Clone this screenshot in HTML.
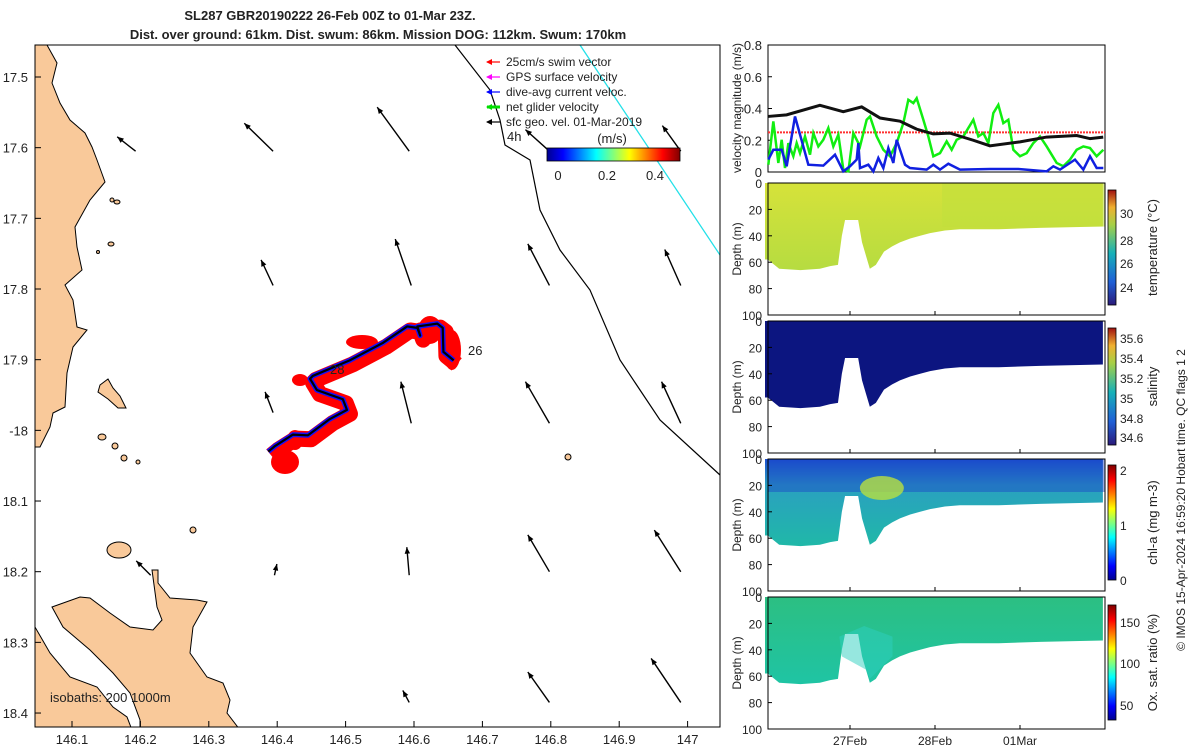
<!DOCTYPE html>
<html><head><meta charset="utf-8"><style>
html,body{margin:0;padding:0;background:#fff;}
svg{display:block;font-family:"Liberation Sans",sans-serif;}
text{font-size:13px;fill:#222;}
</style></head><body>
<svg id="c" width="1200" height="750" xmlns="http://www.w3.org/2000/svg">
<defs>
<linearGradient id="jet" x1="0" x2="1" y1="0" y2="0">
<stop offset="0" stop-color="#00008f"/><stop offset="0.12" stop-color="#0000ff"/><stop offset="0.37" stop-color="#00ffff"/><stop offset="0.62" stop-color="#ffff00"/><stop offset="0.87" stop-color="#ff0000"/><stop offset="1" stop-color="#800000"/></linearGradient>
<linearGradient id="vjet" x1="0" x2="0" y1="1" y2="0">
<stop offset="0" stop-color="#00008f"/><stop offset="0.12" stop-color="#0000ff"/><stop offset="0.37" stop-color="#00ffff"/><stop offset="0.62" stop-color="#ffff00"/><stop offset="0.87" stop-color="#ff0000"/><stop offset="1" stop-color="#800000"/></linearGradient>
<linearGradient id="vpar" x1="0" x2="0" y1="1" y2="0">
<stop offset="0" stop-color="#2a1a7a"/><stop offset="0.2" stop-color="#1f5fd6"/><stop offset="0.45" stop-color="#16b0b8"/><stop offset="0.7" stop-color="#a7d046"/><stop offset="0.85" stop-color="#f0b030"/><stop offset="1" stop-color="#a01010"/></linearGradient>
<linearGradient id="tempfill" x1="0" x2="0" y1="0" y2="1"><stop offset="0" stop-color="#d6e23a"/><stop offset="1" stop-color="#b6dc40"/></linearGradient>
<linearGradient id="chlfill" x1="0" x2="0" y1="0" y2="1"><stop offset="0" stop-color="#1b4fd0"/><stop offset="0.3" stop-color="#2aa0c0"/><stop offset="1" stop-color="#20b8a8"/></linearGradient>
<linearGradient id="oxfill" x1="0" x2="0" y1="0" y2="1"><stop offset="0" stop-color="#2cbf82"/><stop offset="1" stop-color="#1fc4a4"/></linearGradient>
</defs>
<g id="map"></g>
<g id="right"></g>
</svg>
<script>
// ---------- data ----------
var lonTicks=[146.1,146.2,146.3,146.4,146.5,146.6,146.7,146.8,146.9,147];
var latTicks=[17.5,17.6,17.7,17.8,17.9,18,18.1,18.2,18.3,18.4];
var vecLon=[146.193,146.394,146.593,146.798,146.99, 146.394,146.596,146.798,146.99, 146.394,146.596,146.798,146.99, 146.215,146.396,146.593,146.798,146.99, 146.593,146.798,146.99];
var vecLat=[17.605,17.605,17.605,17.605,17.605, 17.795,17.795,17.795,17.795, 17.975,17.99,17.99,17.99, 18.205,18.205,18.205,18.2,18.2, 18.385,18.385,18.385];
var vecU=[-0.23,-0.36,-0.40,-0.30,-0.23, -0.15,-0.20,-0.27,-0.20, -0.10,-0.13,-0.30,-0.24, -0.18,0.03,-0.03,-0.27,-0.33, -0.08,-0.27,-0.37];
var vecV=[0.18,0.35,0.55,0.27,0.32, 0.32,0.58,0.52,0.45, 0.26,0.52,0.52,0.52, 0.18,0.14,0.35,0.46,0.52, 0.15,0.38,0.55];
var trackLon=[146.387,146.397,146.423,146.445,146.477,146.502,146.496,146.458,146.448,146.452,146.506,146.555,146.59,146.605,146.609,146.605,146.634,146.642,146.643,146.658];
var trackLat=[18.03,18.022,18.006,18.007,17.984,17.971,17.956,17.943,17.927,17.923,17.901,17.876,17.853,17.855,17.866,17.853,17.849,17.855,17.889,17.901];
var tHours=[0.9,6.1,15.5,22.1,27.3,32.5,38.1,42.8,47.5,52.2,58.8,63.5,72,79.5,88,91.8,95.5];
var sfcGeo=[0.35,0.36,0.42,0.38,0.41,0.34,0.32,0.27,0.24,0.245,0.2,0.165,0.19,0.22,0.23,0.21,0.22];
var gZ=[25,40,55,65,75,85,100,110,120,135,150,160,175,190,205,220,235,250,265,280,300,320,330,350,370,390,410,430,445,460,470,490,505,520,540,560,575,590,610,625,640,655,670,685,700,715,730,745,760,780,800,820,840,860,875,890,910,930,950,970,990,1010,1030];
var netGlider=[0.046,0.319,0.057,0.203,0.025,0.182,0.099,0.182,0.119,0.224,0.109,0.245,0.161,0.203,0.277,0.161,0.235,0.015,0.004,0.245,0.161,0.329,0.350,0.224,0.140,0.099,0.182,0.308,0.455,0.434,0.465,0.329,0.224,0.099,0.119,0.193,0.140,0.203,0.224,0.277,0.329,0.224,0.245,0.182,0.371,0.423,0.308,0.329,0.140,0.099,0.119,0.182,0.224,0.161,0.109,0.057,0.036,0.078,0.140,0.161,0.151,0.099,0.140];
var bZ=[25,40,65,80,105,145,190,225,250,270,290,295,300,325,340,355,370,385,400,410,435,450,500,520,540,565,600,690,775,860,880,900,945,970,990,1010,1030];
var diveAvg=[0.078,0.140,0.140,0.036,0.350,0.046,0.040,0.109,0.004,0.036,0.078,0.182,0.025,0.046,0.004,0.088,0.025,0.151,0.057,0.203,0.046,0.025,0.015,0.046,0.015,0.052,0.015,0.019,0.019,0.004,0.036,0.015,0.078,0.015,0.099,0.025,0.025];
var swimRef=0.25;
var botHours=[0,0.8,4,10,15.5,18.4,20.6,21.7,22.6,24,26.3,27.4,28.5,29.6,31.3,33.6,35.9,38.1,41,43.8,46.6,50.8,55,66,77.6,95.4];
var botDepth=[58,58,65,66,65,63,62,40,28,28,28,45,55,65,62,52,48,45,42,40,38,36,35,35,34,33];
var depthTicks=[0,20,40,60,80,100];
var velTicks=[0,0.2,0.4,0.6,0.8];
var dayLabels=['27Feb','28Feb','01Mar'];
var dayHours=[24,48,72];

// ---------- helpers ----------
var NS='http://www.w3.org/2000/svg';
function mk(tag,attrs,parent){var e=document.createElementNS(NS,tag);for(var k in attrs)e.setAttribute(k,attrs[k]);parent.appendChild(e);return e;}
var map=document.getElementById('map'), R=document.getElementById('right');
function X(lon){return 72+(lon-146.1)*684;}
function Y(lat){return 77+(lat-17.5)*706.7;}
var MX0=35,MX1=720,MY0=45,MY1=727;

// ---------- map ----------
var clip=mk('clipPath',{id:'mclip'},map);
mk('rect',{x:MX0,y:MY0,width:MX1-MX0,height:MY1-MY0},clip);
var mg=mk('g',{'clip-path':'url(#mclip)'},map);


var landStyle={fill:'#f9c99a',stroke:'#000','stroke-width':1};
var land1=mk('polygon',Object.assign({points:'30,45 47,45 57,63 52,83 60,103 70,120 85,133 92,147 97,160 105,182 90,200 75,227 77,247 82,270 65,285 73,300 77,327 87,330 73,347 67,373 65,407 53,413 50,427 40,447 30,447'},landStyle),mg);


var land2=mk('polygon',Object.assign({points:'52,607 80,597 90,598 110,613 130,627 153,630 162,620 157,607 152,570 158,570 158,583 170,598 197,600 207,602 193,627 190,653 207,677 223,683 230,700 227,713 240,730 140,730 140,720 130,693 113,673 90,650 63,627'},landStyle),mg);


var land3=mk('polygon',Object.assign({points:'30,622 35,627 50,653 70,677 97,687 113,707 127,717 132,730 30,730'},landStyle),mg);


var isl=mk('polygon',Object.assign({points:'100,385 108,379 113,388 120,396 126,408 118,408 108,399 98,392'},landStyle),mg);


var islands=[[102,437,4,3],[115,446,3,3],[124,458,3,3],[138,462,2,2],[119,550,12,8],[193,530,3,3],[568,457,3,3],[111,244,3,2],[112,200,2,2],[117,202,3,2],[98,252,1.5,1.5]];
islands.forEach(function(p){var e=mk('ellipse',Object.assign({cx:p[0],cy:p[1],rx:p[2],ry:p[3]},landStyle),mg);

});
var iso=mk('polyline',{points:'455,45 490,90 500,120 505,145 530,160 540,210 560,250 590,290 620,360 660,420 720,475',fill:'none',stroke:'#000','stroke-width':1.2},mg);


var cy=mk('line',{x1:580,y1:45,x2:720,y2:255,stroke:'#22e0e8','stroke-width':1.3},mg);


for(var i=0;i<vecLon.length;i++){
  var x0=X(vecLon[i]),y0=Y(vecLat[i]),x1=x0+vecU[i]*80,y1=y0-vecV[i]*80;
  var g=mk('g',{},mg);
  
  
  mk('line',{x1:x0,y1:y0,x2:x1,y2:y1,stroke:'#000','stroke-width':1.4},g);
  var a=Math.atan2(y1-y0,x1-x0),L=7;
  mk('polygon',{points:x1+','+y1+' '+(x1-L*Math.cos(a-0.4))+','+(y1-L*Math.sin(a-0.4))+' '+(x1-L*Math.cos(a+0.4))+','+(y1-L*Math.sin(a+0.4)),fill:'#000'},g);
}
var pts=trackLon.map(function(l,i){return X(l)+','+Y(trackLat[i]);}).join(' ');
var redPts=trackLon.map(function(l,i){return (X(l)+3)+','+(Y(trackLat[i])+4);}).join(' ');
var swim=mk('polyline',{points:redPts,fill:'none',stroke:'#ff0000','stroke-width':16,'stroke-linejoin':'round'},mg);


var blobs=[[452,350,9,20],[285,462,14,12],[362,342,16,7],[430,330,12,14],[300,380,8,6],[295,440,8,10]];
blobs.forEach(function(b){var e=mk('ellipse',{cx:b[0],cy:b[1],rx:b[2],ry:b[3],fill:'#ff0000'},mg);

});
var dav=mk('polyline',{points:pts,fill:'none',stroke:'#1010ff','stroke-width':5,'stroke-linejoin':'round'},mg);


var trk=mk('polyline',{points:pts,fill:'none',stroke:'#000','stroke-width':2.2,'stroke-linejoin':'round'},mg);


[['26',468,355],['28',330,374],['4h',507,141],['isobaths: 200  1000m',50,702]].forEach(function(t){
 var e=mk('text',{x:t[1],y:t[2]},mg);e.textContent=t[0];
 
 });
var fr=mk('rect',{x:MX0,y:MY0,width:MX1-MX0,height:MY1-MY0,fill:'none',stroke:'#000','stroke-width':1},map);


lonTicks.forEach(function(v){var x=X(v);
 mk('line',{x1:x,y1:MY1,x2:x,y2:MY1-6,stroke:'#000'},map);
 var t=mk('text',{x:x,y:MY1+17,'text-anchor':'middle'},map);t.textContent=(v===147?'147':v.toFixed(1));
 
 });
latTicks.forEach(function(v){var y=Y(v);
 mk('line',{x1:MX0,y1:y,x2:MX0+6,y2:y,stroke:'#000'},map);
 var t=mk('text',{x:28,y:y+5,'text-anchor':'end'},map);t.textContent=(v===18?'-18':v.toFixed(1));
 
 });
[['SL287 GBR20190222 26-Feb 00Z to 01-Mar 23Z.',330,20],['Dist. over ground: 61km. Dist. swum: 86km. Mission DOG: 112km. Swum: 170km',378,39]].forEach(function(t){
 var e=mk('text',{x:t[1],y:t[2],'text-anchor':'middle','font-weight':'bold'},map);e.textContent=t[0];
 
 });
var leg=[['25cm/s swim vector','#ff0000'],['GPS surface velocity','#ff00ff'],['dive-avg current veloc.','#0000ff'],['net glider velocity','#00dd00'],['sfc geo. vel. 01-Mar-2019','#000']];
leg.forEach(function(l,i){var y=66+i*15;
 var g=mk('g',{},map);
 
 
 mk('line',{x1:487,y1:y-4,x2:500,y2:y-4,stroke:l[1],'stroke-width':i==3?3:1.2},g);
 mk('polygon',{points:'486,'+(y-4)+' 492,'+(y-7)+' 492,'+(y-1),fill:l[1]},g);
 var t=mk('text',{x:506,y:y,style:'font-size:12px'},g);t.textContent=l[0];});
var cbm=mk('rect',{x:547,y:148,width:133,height:13,fill:'url(#jet)',stroke:'#000','stroke-width':0.8},map);


[['(m/s)',612,143],['0',558,180],['0.2',607,180],['0.4',655,180]].forEach(function(t){
 var e=mk('text',{x:t[1],y:t[2],'text-anchor':'middle'},map);e.textContent=t[0];
 
 });

// ---------- right panels ----------
var PX0=768,PX1=1105;
function TX(h){return 765+h*85/24;}
var VY0=45,VY1=172;
function VY(v){return VY1-v*158.75;}
var vf=mk('rect',{x:PX0,y:VY0,width:PX1-PX0,height:VY1-VY0,fill:'#fff',stroke:'#000'},R);


velTicks.forEach(function(v){var t=mk('text',{x:762,y:VY(v)+5,'text-anchor':'end'},R);t.textContent=(v===0?'0':v.toFixed(1));
 
 
 mk('line',{x1:PX0,y1:VY(v),x2:PX0+4,y2:VY(v),stroke:'#000'},R);});
var vl=mk('text',{x:0,y:0,transform:'translate(741,108) rotate(-90)','text-anchor':'middle',style:'font-size:12px'},R);
vl.textContent='velocity magnitude (m/s)';


function zh(z){return (760+z/3-765)*24/85;}
var rl=mk('line',{x1:PX0,y1:VY(swimRef),x2:PX1,y2:VY(swimRef),stroke:'#ff3030','stroke-width':2,'stroke-dasharray':'2,1'},R);


var gl=mk('polyline',{points:gZ.map(function(z,i){return TX(zh(z))+','+VY(netGlider[i]);}).join(' '),fill:'none',stroke:'#11ee11','stroke-width':2.5},R);


var bl=mk('polyline',{points:bZ.map(function(z,i){return TX(zh(z))+','+VY(diveAvg[i]);}).join(' '),fill:'none',stroke:'#1020e0','stroke-width':2.5},R);


var kl=mk('polyline',{points:tHours.map(function(h,i){return TX(h)+','+VY(sfcGeo[i]);}).join(' '),fill:'none',stroke:'#111','stroke-width':3},R);



var panels=[
 {y0:183,fill:'url(#tempfill)',cb:[190,305],cbFill:'url(#vpar)',ticks:[['30',213],['28',240],['26',263],['24',287]],label:'temperature (°C)',name:'temperature'},
 {y0:321,fill:'#0c1580',cb:[328,445],cbFill:'url(#vpar)',ticks:[['35.6',338],['35.4',358],['35.2',378],['35',398],['34.8',418],['34.6',437]],label:'salinity',name:'salinity'},
 {y0:459,fill:'url(#chlfill)',cb:[465,580],cbFill:'url(#vjet)',ticks:[['2',470],['1',525],['0',580]],label:'chl-a (mg m-3)',name:'chlorophyll'},
 {y0:597,fill:'url(#oxfill)',cb:[605,720],cbFill:'url(#vjet)',ticks:[['150',622],['100',663],['50',705]],label:'Ox. sat. ratio (%)',name:'oxygen'}];
panels.forEach(function(p,pi){
 var H=132,DY=function(d){return p.y0+d*1.32;};
 var g=mk('g',{},R);
 
 
 var pts=TX(botHours[0])+','+DY(0)+' '+botHours.map(function(h,i){return TX(h)+','+DY(botDepth[i]);}).join(' ')+' '+TX(botHours[botHours.length-1])+','+DY(0);
 var area=mk('polygon',{points:pts,fill:p.fill},g);
 
 
 if(pi===3){var c=mk('polygon',{points:TX(21)+','+DY(30)+' '+TX(21.7)+','+DY(45)+' '+TX(28.5)+','+DY(55)+' '+TX(29.6)+','+DY(62)+' '+TX(36)+','+DY(45)+' '+TX(36)+','+DY(30)+' '+TX(28)+','+DY(22),fill:'#2ed0c0',opacity:0.5},g);
  
  }
 if(pi===2){var c3=mk('rect',{x:PX0,y:DY(0),width:PX1-PX0,height:DY(25)-DY(0),fill:'#1a44c8',opacity:0.45},g);
  
  
  var c2=mk('ellipse',{cx:TX(33),cy:DY(22),rx:22,ry:12,fill:'#b8e040',opacity:0.8},g);
  
  }
 if(pi===0){var c4=mk('rect',{x:TX(50),y:DY(0),width:PX1-TX(50),height:DY(33)-DY(0),fill:'#c2e03c',opacity:0.6},g);
  
  }
 mk('rect',{x:PX0,y:p.y0,width:PX1-PX0,height:H,fill:'none',stroke:'#000'},g);
 depthTicks.forEach(function(d){mk('line',{x1:PX0,y1:DY(d),x2:PX0+4,y2:DY(d),stroke:'#000'},g);
  var t=mk('text',{x:762,y:DY(d)+5,'text-anchor':'end',style:'font-size:12px'},g);t.textContent=d;
  
  });
 dayHours.forEach(function(h){mk('line',{x1:TX(h),y1:p.y0+H,x2:TX(h),y2:p.y0+H-4,stroke:'#000'},g);});
 var dl=mk('text',{x:0,y:0,transform:'translate(741,'+(p.y0+66)+') rotate(-90)','text-anchor':'middle',style:'font-size:12px'},g);dl.textContent='Depth (m)';
 
 
 var cb=mk('rect',{x:1108,y:p.cb[0],width:8,height:p.cb[1]-p.cb[0],fill:p.cbFill,stroke:'#000','stroke-width':0.8},g);
 
 
 p.ticks.forEach(function(t){var e=mk('text',{x:1120,y:t[1]+5,style:'font-size:12px'},g);e.textContent=t[0];
  
  });
 var lb=mk('text',{x:0,y:0,transform:'translate(1157,'+((p.cb[0]+p.cb[1])/2)+') rotate(-90)','text-anchor':'middle'},g);lb.textContent=p.label;
 
 
});
dayHours.forEach(function(h,i){var t=mk('text',{x:TX(h),y:745,'text-anchor':'middle',style:'font-size:12px'},R);t.textContent=dayLabels[i];
 
 });
var cr=mk('text',{x:0,y:0,transform:'translate(1185,500) rotate(-90)','text-anchor':'middle',style:'font-size:12px'},R);
cr.textContent='© IMOS 15-Apr-2024 16:59:20 Hobart time. QC flags 1  2';


</script>
</body></html>
